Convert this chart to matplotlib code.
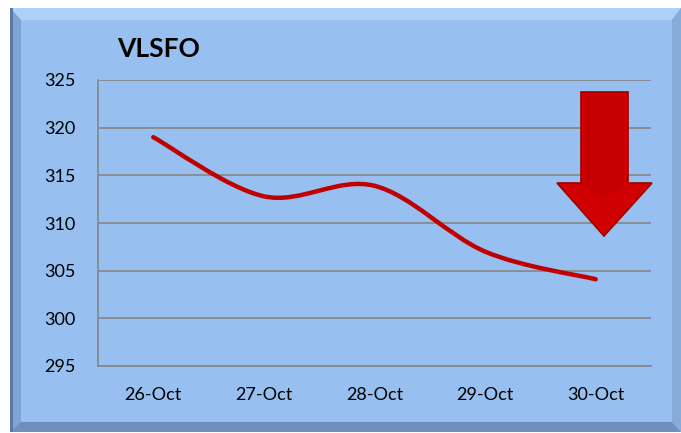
import matplotlib.pyplot as plt
from matplotlib.path import Path
from matplotlib.patches import PathPatch, Polygon

dates = ['26-Oct', '27-Oct', '28-Oct', '29-Oct', '30-Oct']
prices = [319.0, 312.8, 313.9, 307.0, 304.1]
y_ticks = [295, 300, 305, 310, 315, 320, 325]

W, H = 681, 433
BG = '#97bff0'


def px(x, y):
    # pixel position (top-left origin) -> figure fraction
    return (x / W, 1 - y / H)


def smooth_path(xs, ys):
    # Excel-like smoothed line: cubic bezier with 1/6 tangents
    pts = list(zip(xs, ys))
    verts = [pts[0]]
    codes = [Path.MOVETO]
    n = len(pts)
    for i in range(n - 1):
        p0 = pts[i - 1] if i > 0 else pts[i]
        p1, p2 = pts[i], pts[i + 1]
        p3 = pts[i + 2] if i + 2 < n else pts[i + 1]
        c1 = (p1[0] + (p2[0] - p0[0]) / 6, p1[1] + (p2[1] - p0[1]) / 6)
        c2 = (p2[0] - (p3[0] - p1[0]) / 6, p2[1] - (p3[1] - p1[1]) / 6)
        verts += [c1, c2, p2]
        codes += [Path.CURVE4] * 3
    return Path(verts, codes)


def fig_poly(pts, z, **kw):
    fig.add_artist(Polygon([px(*p) for p in pts], closed=True,
                           transform=fig.transFigure, zorder=z, **kw))


fig = plt.figure(figsize=(W / 100, H / 100), dpi=100)
fig.patch.set_facecolor('white')

# chart frame with bevelled edges
x0, y0, x1, y1 = 10, 8, 681, 432
bt, bl, bb, br = 12, 11, 10, 9
fig_poly([(x0, y0), (x1, y0), (x1, y1), (x0, y1)], -3,
         facecolor=BG, edgecolor='none')
bevels = [
    ([(x0, y0), (x1, y0), (x1 - br, y0 + bt), (x0 + bl, y0 + bt)], '#afd0f7'),
    ([(x0, y0), (x0 + bl, y0 + bt), (x0 + bl, y1 - bb), (x0, y1)], '#7ea3d5'),
    ([(x0, y1), (x0 + bl, y1 - bb), (x1 - br, y1 - bb), (x1, y1)], '#6f90be'),
    ([(x1, y0), (x1, y1), (x1 - br, y1 - bb), (x1 - br, y0 + bt)], '#86abdb'),
]
for pts, col in bevels:
    fig_poly(pts, -2, facecolor=col, edgecolor='none')
fig_poly([(x0, y0), (x0 + 3, y0), (x0 + 3, y1), (x0, y1)], -1,
         facecolor='#5a7aa6', edgecolor='none')

ax = fig.add_axes([98 / W, (H - 366) / H, (651 - 98) / W, (366 - 80) / H])
ax.set_facecolor('none')
ax.set_zorder(1)

xs = list(range(len(dates)))
ax.add_patch(PathPatch(smooth_path(xs, prices), facecolor='none',
                       edgecolor='#c00000', linewidth=3.2,
                       capstyle='round', joinstyle='round', zorder=3))

ax.set_xlim(-0.5, len(dates) - 0.5)
ax.set_ylim(y_ticks[0], y_ticks[-1])
ax.set_xticks(xs)
ax.set_xticklabels(dates)
ax.set_yticks(y_ticks)
ax.grid(axis='y', color='#868686', linewidth=1.2)
ax.set_axisbelow(True)
for side in ['top', 'right']:
    ax.spines[side].set_visible(False)
for side in ['left', 'bottom']:
    ax.spines[side].set_color('#868686')
    ax.spines[side].set_linewidth(1.2)
ax.tick_params(axis='both', length=0, labelsize=13, labelcolor='black')
ax.tick_params(axis='y', pad=16)
ax.tick_params(axis='x', pad=15)
for lab in ax.get_xticklabels() + ax.get_yticklabels():
    lab.set_fontfamily('Lato')

fig.text(117 / W, 1 - 49 / H, 'VLSFO', fontsize=19, fontweight='bold',
         fontfamily='Lato', va='center', ha='left', zorder=4)

# red down arrow
arrow = [(581, 92), (628, 92), (628, 183), (652, 183), (604, 236),
         (557, 183), (581, 183)]
fig_poly(arrow, 5, facecolor='#d00000', edgecolor='#9e0000', linewidth=1.2)
fig_poly([(585, 96), (624, 96), (624, 185), (604, 199), (585, 185)], 6,
         facecolor='#c60000', edgecolor='none')

fig.savefig('out.png', dpi=100)
